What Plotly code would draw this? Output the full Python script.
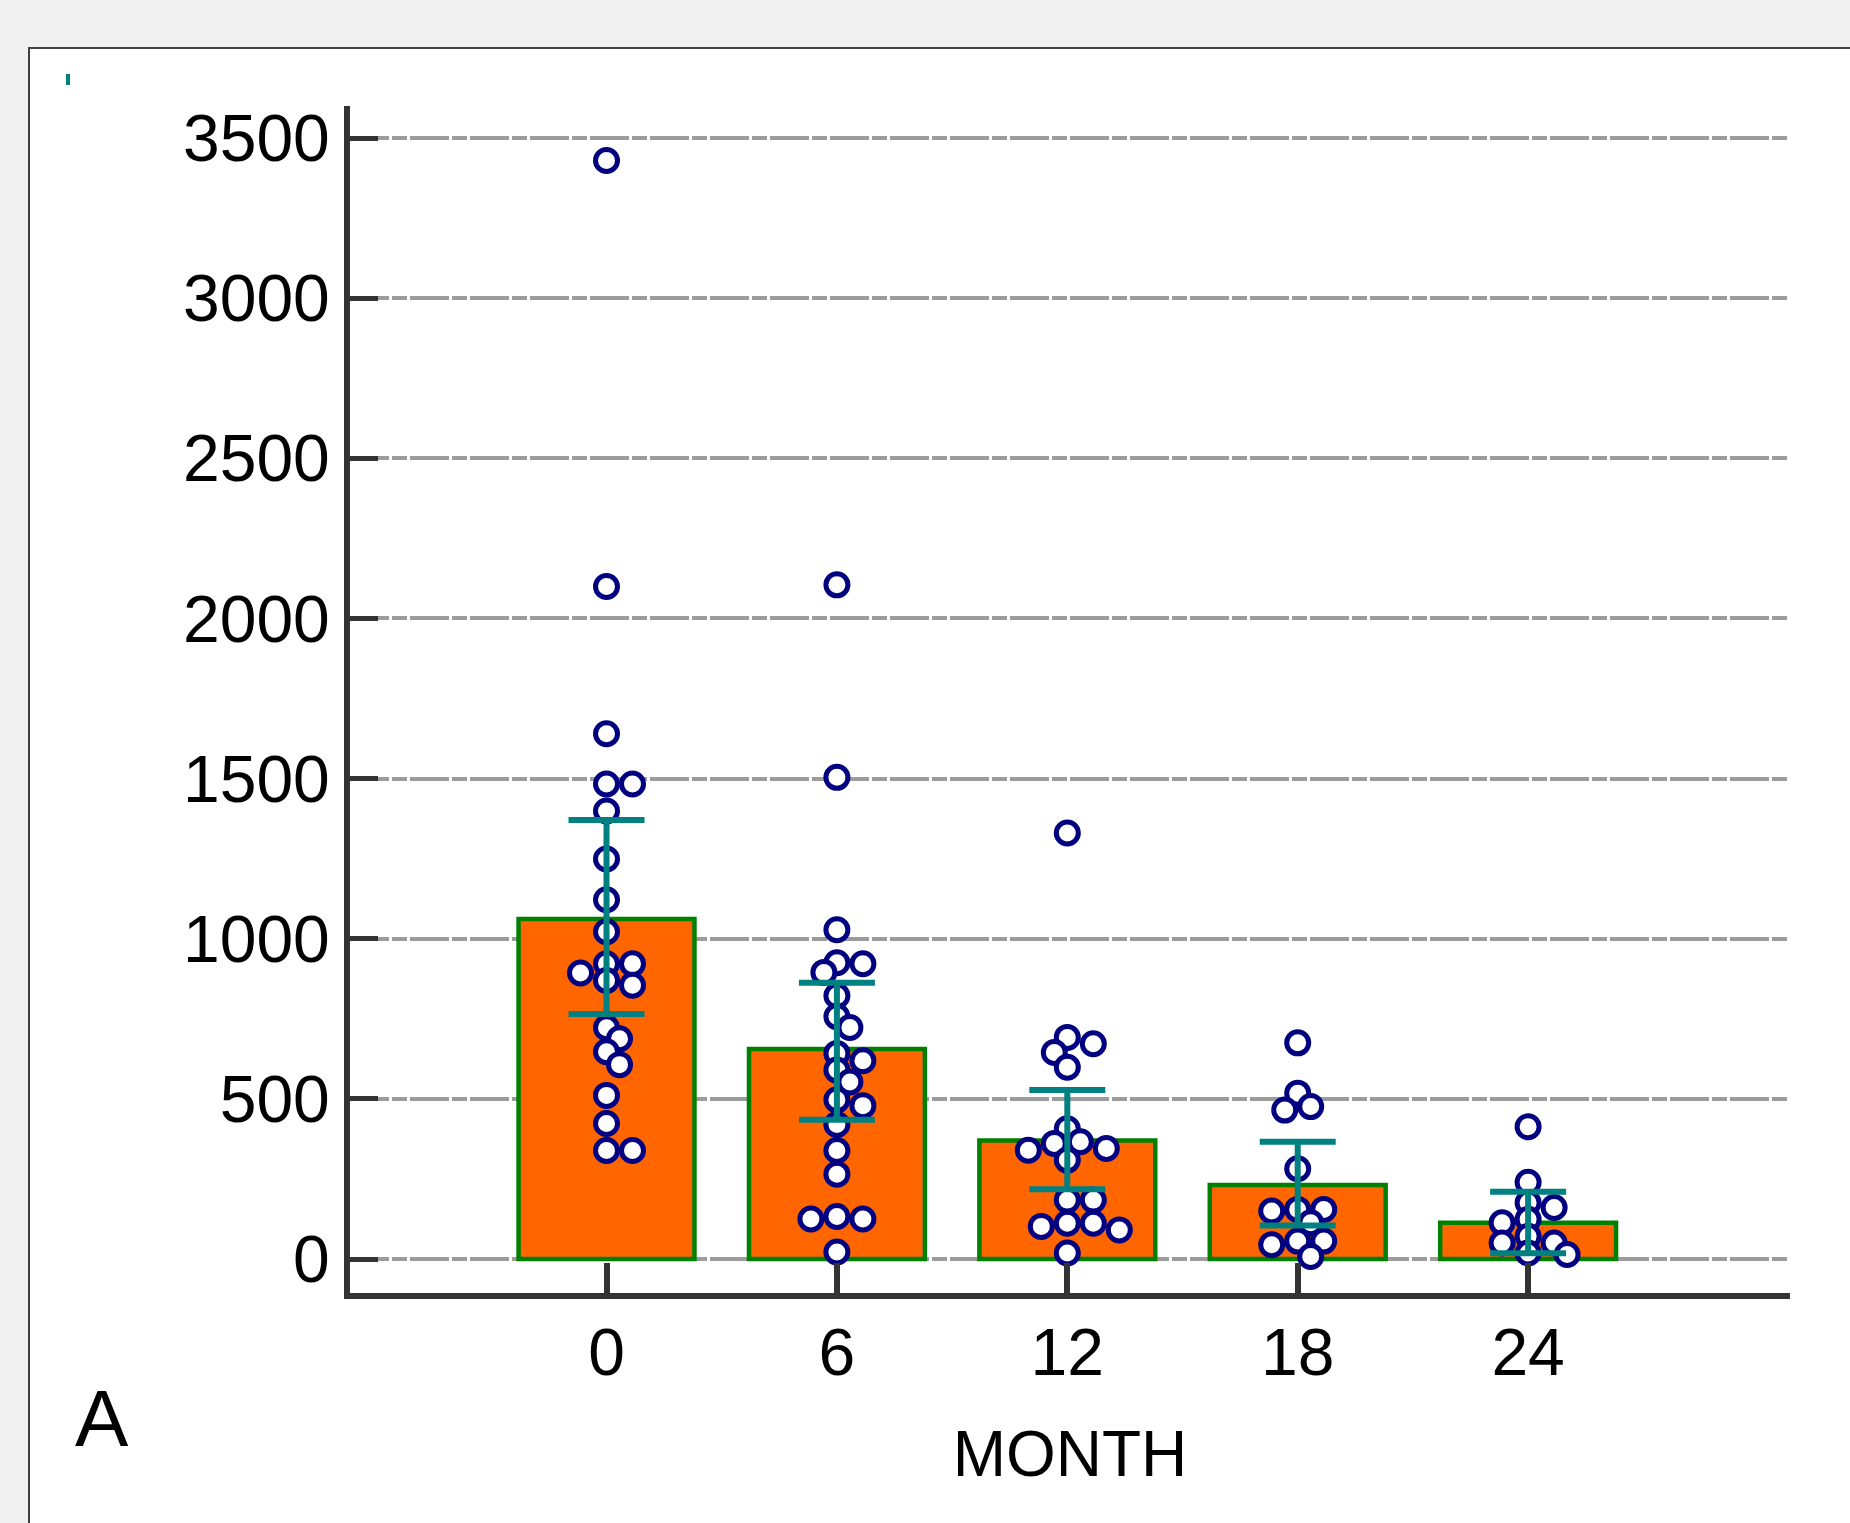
import plotly.graph_objects as go

# ---- data -------------------------------------------------------------
months = [0, 6, 12, 18, 24]
tick_labels = ["0", "6", "12", "18", "24"]

values_m0 = [3430, 2100, 1640, 1483, 1483, 1399, 1249, 1122, 1022, 922, 922,
             893, 870, 855, 722, 688, 647, 607, 511, 423, 339, 339]
values_m6 = [2105, 1504, 1028, 925, 922, 895, 822, 757, 723, 642, 619,
             590, 553, 497, 479, 420, 339, 265, 133, 125, 125, 22]
values_m12 = [1330, 692, 672, 645, 599, 407, 366, 361, 345, 340, 309,
              184, 184, 112, 112, 102, 91, 19]
values_m18 = [675, 518, 476, 465, 282, 155, 155, 150, 113, 56, 56, 45, 8]
values_m24 = [413, 240, 176, 161, 124, 113, 71, 50, 50, 19, 14]

bar_means = [1062, 656, 370, 231, 113]
ci_upper = [1371, 863, 528, 366, 210]
ci_lower = [765, 435, 218, 105, 18]

y_ticks = [0, 500, 1000, 1500, 2000, 2500, 3000, 3500]

# ---- geometry ---------------------------------------------------------
W, H = 1850, 1523
L, R, T, B = 350, 60, 106, 230
PW, PH = W - L - R, H - T - B
x_range = [-6.68, 30.82]
y_range = [-106, 3600]
px_per_x = PW / (x_range[1] - x_range[0])
px_per_y = PH / (y_range[1] - y_range[0])


def paper_x(px):
    return (px - L) / PW


def paper_y(py):
    return (H - B - py) / PH


def swarm(values, step=13.0, dmin=16.0):
    """Greedy beeswarm: horizontal pixel offsets for each value."""
    order = sorted(range(len(values)), key=lambda i: -values[i])
    placed = []
    offs = [0.0] * len(values)
    cands = [0.0]
    for k in range(1, 12):
        cands += [k * step, -k * step]
    for i in order:
        yp = values[i] * px_per_y
        for c in cands:
            if all((c - ox) ** 2 + (yp - oy) ** 2 >= dmin ** 2 for ox, oy in placed):
                break
        placed.append((c, yp))
        offs[i] = c
    return [o / px_per_x for o in offs]


groups = [values_m0, values_m6, values_m12, values_m18, values_m24]

fig = go.Figure()

fig.add_trace(go.Bar(
    x=months, y=bar_means, width=4.58,
    marker=dict(color="#FF6600", line=dict(color="#008000", width=4.5)),
    hoverinfo="skip",
))

pts_x, pts_y = [], []
for m, vals in zip(months, groups):
    for v, o in zip(vals, swarm(vals)):
        pts_x.append(m + o)
        pts_y.append(v)

fig.add_trace(go.Scatter(
    x=pts_x, y=pts_y, mode="markers",
    marker=dict(size=22, color="white", line=dict(color="#000080", width=5)),
    hoverinfo="y",
))

fig.add_trace(go.Scatter(
    x=months, y=bar_means, mode="markers",
    marker=dict(size=2, opacity=0),
    error_y=dict(
        type="data", symmetric=False,
        array=[u - m for u, m in zip(ci_upper, bar_means)],
        arrayminus=[m - l for m, l in zip(bar_means, ci_lower)],
        color="#008080", thickness=6, width=38,
    ),
    hoverinfo="skip",
))

fig.update_layout(
    width=W, height=H,
    margin=dict(l=L, r=R, t=T, b=B, pad=0),
    paper_bgcolor="#F0F0F0",
    plot_bgcolor="white",
    showlegend=False,
    font=dict(family="Liberation Sans, Arial, sans-serif", size=66, color="black"),
    xaxis=dict(
        range=x_range, tickmode="array", tickvals=months, ticktext=tick_labels,
        ticks="inside", ticklen=30, tickwidth=6, tickcolor="#333333",
        showline=True, linecolor="#333333", linewidth=6,
        showgrid=False, zeroline=False, ticklabelstandoff=-3,
        title=dict(text="MONTH", font=dict(size=64), standoff=45),
    ),
    yaxis=dict(
        range=y_range, tickmode="array", tickvals=y_ticks,
        ticks="inside", ticklen=28, tickwidth=5, tickcolor="#333333",
        showline=True, linecolor="#333333", linewidth=6,
        showgrid=True, gridcolor="#9C9C9C", gridwidth=4,
        griddash="39px,3px,15px,3px",
        zeroline=False, ticklabelstandoff=1,
    ),
    shapes=[
        dict(type="rect", xref="paper", yref="paper", layer="below",
             x0=paper_x(29), y0=paper_y(48), x1=paper_x(1880), y1=paper_y(1560),
             fillcolor="white", line=dict(color="#404040", width=2)),
        dict(type="rect", xref="paper", yref="paper", layer="above",
             x0=paper_x(66), y0=paper_y(74), x1=paper_x(70), y1=paper_y(85),
             fillcolor="#008080", line=dict(width=0)),
    ],
    annotations=[
        dict(text="A", xref="paper", yref="paper", x=paper_x(102), y=paper_y(1418),
             xanchor="center", yanchor="middle", showarrow=False,
             font=dict(size=80, color="black")),
    ],
)

fig.write_html("out.html")
